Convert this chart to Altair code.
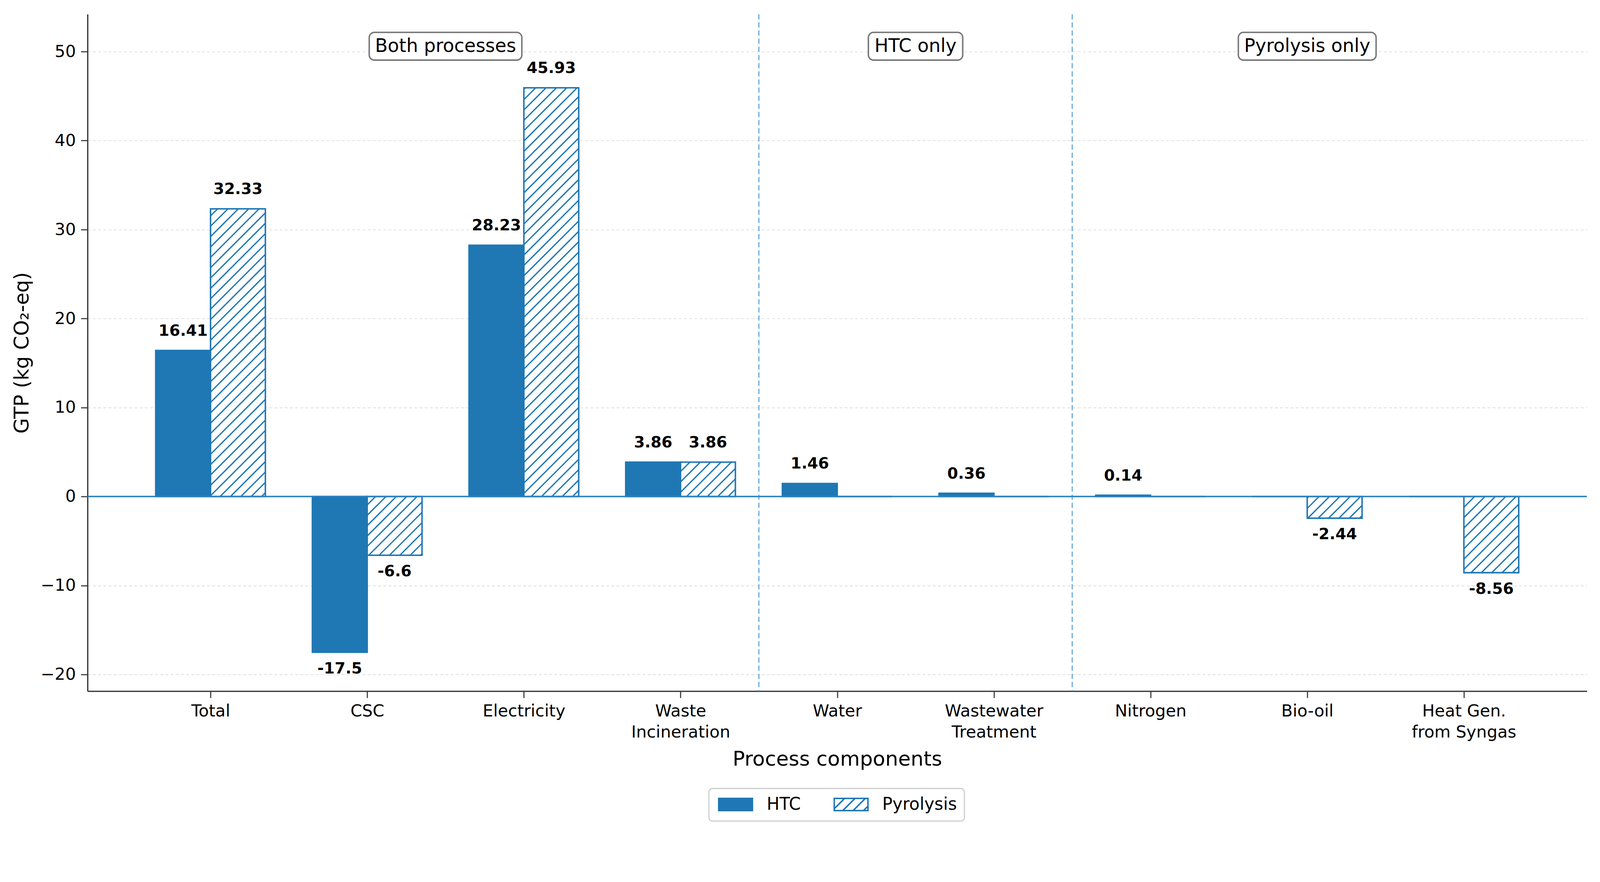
import json
import math
import altair as alt
import pandas as pd

# ---------------- data ----------------
categories = ["Total", "CSC", "Electricity", "Waste\nIncineration", "Water",
              "Wastewater\nTreatment", "Nitrogen", "Bio-oil", "Heat Gen.\nfrom Syngas"]
htc_values = [16.41, -17.5, 28.23, 3.86, 1.46, 0.36, 0.14, 0.0, 0.0]
pyrolysis_values = [32.33, -6.6, 45.93, 3.86, 0.0, 0.0, 0.0, -2.44, -8.56]
series_names = ["HTC", "Pyrolysis"]
section_names = ["Both processes", "HTC only", "Pyrolysis only"]
section_centers = [1.5, 4.5, 7.0]
section_y = 50.6
divider_positions = [3.5, 5.5]
y_ticks = [-20, -10, 0, 10, 20, 30, 40, 50]

# ---------------- styling / geometry constants ----------------
BLUE = "#1f77b4"
FONT = "DejaVu Sans"
BAR_W = 0.35
X_DOMAIN = [-0.785, 8.785]
Y_DOMAIN = [-21.875, 54.2]
W, H = 4049, 1829
PX_X = W / (X_DOMAIN[1] - X_DOMAIN[0])
PX_Y = H / (Y_DOMAIN[1] - Y_DOMAIN[0])
HATCH_SP = 28.0  # px, horizontal spacing of hatch lines

# ---------------- bar table ----------------
rows = []
for i, cat in enumerate(categories):
    for s, vals, off in (("HTC", htc_values, -0.5), ("Pyrolysis", pyrolysis_values, 0.5)):
        v = vals[i]
        c = i + off * BAR_W
        rows.append({"category": cat.replace("\n", " "), "series": s, "value": v,
                     "x0": c - BAR_W / 2, "x1": c + BAR_W / 2, "center": c,
                     "y0": 0.0, "label": str(v)})
bars_df = pd.DataFrame(rows)

# ---------------- hatch segments for Pyrolysis bars ----------------
hatch = []
for r in rows:
    if r["series"] != "Pyrolysis" or r["value"] == 0:
        continue
    L = (r["x0"] - X_DOMAIN[0]) * PX_X
    B = (min(0.0, r["value"]) - Y_DOMAIN[0]) * PX_Y
    Bw = BAR_W * PX_X
    Bh = abs(r["value"]) * PX_Y
    base = L - B
    k0 = math.ceil((base - Bh) / HATCH_SP)
    k1 = math.floor((base + Bw) / HATCH_SP)
    for k in range(k0, k1 + 1):
        c = k * HATCH_SP - base
        if c >= 0:
            su, sw = c, 0.0
        else:
            su, sw = 0.0, -c
        if c + Bh <= Bw:
            eu, ew = c + Bh, Bh
        else:
            eu, ew = Bw, Bw - c
        if eu - su < 1.5:
            continue
        hatch.append({
            "hx": X_DOMAIN[0] + (L + su) / PX_X, "hy": Y_DOMAIN[0] + (B + sw) / PX_Y,
            "hx2": X_DOMAIN[0] + (L + eu) / PX_X, "hy2": Y_DOMAIN[0] + (B + ew) / PX_Y,
        })
hatch_df = pd.DataFrame(hatch)

# ---------------- section label boxes ----------------
ADV = {'B': 1405, 'o': 1253, 't': 803, 'h': 1298, ' ': 651, 'p': 1300, 'r': 842, 'c': 1126,
       'e': 1260, 's': 1067, 'H': 1540, 'T': 1251, 'C': 1430, 'n': 1298, 'l': 569, 'y': 1212,
       'P': 1235, 'i': 569}
SEC_FS = 50
def text_w(t, fs):
    return sum(ADV.get(ch, 1200) for ch in t) / 2048 * fs
sec_rows = []
for name, cx in zip(section_names, section_centers):
    bw = text_w(name, SEC_FS) + 30
    bh = 75
    sec_rows.append({"name": name, "cx": cx, "cy": section_y,
                     "lo": cx - bw / 2 / PX_X, "hi": cx + bw / 2 / PX_X,
                     "ylo": section_y - bh / 2 / PX_Y, "yhi": section_y + bh / 2 / PX_Y})
sec_df = pd.DataFrame(sec_rows)

# ---------------- legend symbol paths ----------------
SYM_PX = 33.0
UNIT = SYM_PX / 2
HW, HH = 45.5 / UNIT, 16.5 / UNIT
def fmt(v):
    return f"{v:.3f}"
rect_path = f"M{fmt(-HW)},{fmt(-HH)}L{fmt(HW)},{fmt(-HH)}L{fmt(HW)},{fmt(HH)}L{fmt(-HW)},{fmt(HH)}Z"
parts = [rect_path]
sp = HATCH_SP / UNIT
t = -HW - 2 * HH
while t < HW:
    xs = max(t, -HW)
    xe = min(t + 2 * HH, HW)
    if xe - xs > 0.05:
        parts.append(f"M{fmt(xs)},{fmt(HH - (xs - t))}L{fmt(xe)},{fmt(HH - (xe - t))}")
    t += sp
hatch_path = "".join(parts)
SYM_SHIFT = 45.5 - SYM_PX / 2

# ---------------- chart ----------------
x_scale = alt.Scale(domain=X_DOMAIN, nice=False, zero=False)
y_scale = alt.Scale(domain=Y_DOMAIN, nice=False, zero=False)
label_lines = json.dumps([c.split("\n") for c in categories])

x_axis = alt.Axis(values=list(range(len(categories))), labelExpr=f"{label_lines}[datum.value]",
                  grid=False, tickSize=18, tickWidth=3, tickColor="#3a3a3a",
                  domainColor="#3a3a3a", domainWidth=3.5, labelFont=FONT, labelFontSize=45,
                  labelColor="black", labelPadding=14, labelLineHeight=57, labelBaseline="top",
                  labelAngle=0, labelOverlap=False, labelFlush=False, labelLimit=0,
                  titleFont=FONT, titleFontSize=55, titleFontWeight="normal", titleColor="black",
                  titlePadding=24)
y_axis = alt.Axis(values=y_ticks, grid=True, gridColor="#dddddd", gridDash=[8, 6], gridWidth=2,
                  tickSize=18, tickWidth=3, tickColor="#3a3a3a", domainColor="#3a3a3a",
                  domainWidth=3.5, labelFont=FONT, labelFontSize=45, labelColor="black",
                  labelPadding=14, labelLimit=0, titleFont=FONT, titleFontSize=54,
                  titleFontWeight="normal", titleColor="black", titlePadding=22)

fill_enc = alt.Fill("series:N", scale=alt.Scale(domain=series_names, range=[BLUE, "#ffffff"]),
                    legend=alt.Legend(title=None))
stroke_enc = alt.Stroke("series:N", scale=alt.Scale(domain=series_names, range=[BLUE, BLUE]),
                        legend=alt.Legend(title=None))

dividers = alt.Chart(pd.DataFrame({"dx": divider_positions})).mark_rule(
    color="#62a6d8", strokeWidth=3, strokeDash=[14, 8]
).encode(x=alt.X("dx:Q", scale=x_scale, axis=x_axis, title="Process components"))

bars = alt.Chart(bars_df).mark_bar(strokeWidth=4).encode(
    x=alt.X("x0:Q", scale=x_scale, axis=x_axis, title="Process components"),
    x2="x1:Q",
    y=alt.Y("y0:Q", scale=y_scale, axis=y_axis, title="GTP (kg CO\u2082-eq)"),
    y2="value:Q",
    fill=fill_enc,
    stroke=stroke_enc,
)

hatch_layer = alt.Chart(hatch_df).mark_rule(color=BLUE, strokeWidth=3.5).encode(
    x=alt.X("hx:Q", scale=x_scale), x2="hx2:Q",
    y=alt.Y("hy:Q", scale=y_scale), y2="hy2:Q",
)

zero_line = alt.Chart(pd.DataFrame({"zy": [0.0]})).mark_rule(color="#2a80c2", strokeWidth=4).encode(
    y=alt.Y("zy:Q", scale=y_scale)
)

legend_layer = alt.Chart(pd.DataFrame({"series": series_names})).transform_filter("false").mark_point(
    filled=True, strokeWidth=4, opacity=1
).encode(
    shape=alt.Shape("series:N", scale=alt.Scale(domain=series_names, range=[rect_path, hatch_path]),
                    legend=alt.Legend(title=None)),
    fill=fill_enc,
    stroke=stroke_enc,
)

pos_labels = alt.Chart(bars_df).transform_filter("datum.value > 0").mark_text(
    font=FONT, fontWeight="bold", fontSize=42, baseline="middle", dy=-53, color="black"
).encode(x=alt.X("center:Q", scale=x_scale), y=alt.Y("value:Q", scale=y_scale), text="label:N")

neg_labels = alt.Chart(bars_df).transform_filter("datum.value < 0").mark_text(
    font=FONT, fontWeight="bold", fontSize=42, baseline="middle", dy=44, color="black"
).encode(x=alt.X("center:Q", scale=x_scale), y=alt.Y("value:Q", scale=y_scale), text="label:N")

sec_boxes = alt.Chart(sec_df).mark_rect(
    fill="white", stroke="#7a7a7a", strokeWidth=4, cornerRadius=14
).encode(x=alt.X("lo:Q", scale=x_scale), x2="hi:Q", y=alt.Y("ylo:Q", scale=y_scale), y2="yhi:Q")

sec_text = alt.Chart(sec_df).mark_text(
    font=FONT, fontSize=SEC_FS, baseline="middle", color="black"
).encode(x=alt.X("cx:Q", scale=x_scale), y=alt.Y("cy:Q", scale=y_scale), text="name:N")

chart = alt.layer(
    dividers, bars, hatch_layer, zero_line, legend_layer, pos_labels, neg_labels, sec_boxes, sec_text
).properties(
    width=W, height=H,
    autosize=alt.AutoSizeParams(type="none"),
    padding={"left": 228, "top": -28, "right": 27, "bottom": 310},
).configure_view(
    stroke="transparent"
).configure_legend(
    orient="none", legendX=1678, legendY=2092, direction="horizontal",
    strokeColor="#cccccc", strokeWidth=3, fillColor="white", cornerRadius=10, padding=20,
    labelFont=FONT, labelFontSize=46, labelColor="black", labelLimit=0,
    labelOffset=61, columnPadding=81, symbolOffset=SYM_SHIFT,
    symbolSize=SYM_PX * SYM_PX, symbolStrokeWidth=4,
)

chart.save("out.html", embed_options={"renderer": "svg", "actions": False})
